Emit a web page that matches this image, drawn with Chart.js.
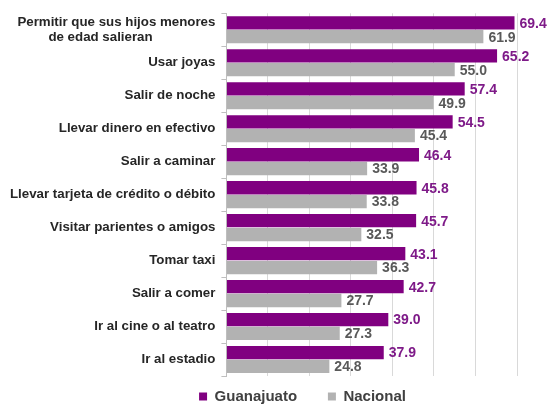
<!DOCTYPE html>
<html>
<head>
<meta charset="utf-8">
<script src="https://cdn.jsdelivr.net/npm/chart.js@4/dist/chart.umd.min.js"></script>
<style>
  html, body { margin: 0; padding: 0; background: #fff; }
  #wrap { width: 549px; height: 404px; position: relative; }
</style>
</head>
<body>
<div id="wrap"><canvas id="chart"></canvas></div>
<script>
// second line padded with spaces so it sits centred under the first
const categories = [
  ["Permitir que sus hijos menores", "de edad salieran" + " ".repeat(17)],
  "Usar joyas",
  "Salir de noche",
  "Llevar dinero en efectivo",
  "Salir a caminar",
  "Llevar tarjeta de crédito o débito",
  "Visitar parientes o amigos",
  "Tomar taxi",
  "Salir a comer",
  "Ir al cine o al teatro",
  "Ir al estadio",
];
const guanajuato = [69.4, 65.2, 57.4, 54.5, 46.4, 45.8, 45.7, 43.1, 42.7, 39.0, 37.9];
const nacional = [61.9, 55.0, 49.9, 45.4, 33.9, 33.8, 32.5, 36.3, 27.7, 27.3, 24.8];

const purple = "#800080";
const grey = "#b2b2b2";
const labelColors = ["#7e1a88", "#595959"];
const fontFamily = "'Liberation Sans', Arial, sans-serif";

// value labels at the end of each bar
const valueLabels = {
  id: "valueLabels",
  afterDatasetsDraw(chart) {
    const ctx = chart.ctx;
    ctx.save();
    ctx.font = "bold 14px " + fontFamily;
    ctx.textBaseline = "middle";
    ctx.textAlign = "left";
    chart.data.datasets.forEach((ds, i) => {
      const meta = chart.getDatasetMeta(i);
      ctx.fillStyle = labelColors[i];
      meta.data.forEach((bar, j) => {
        ctx.fillText(ds.data[j].toFixed(1), bar.x + 5, bar.y + 1);
      });
    });
    ctx.restore();
  },
};

// nudge the legend right and a bit lower, like the original
const legendShift = {
  id: "legendShift",
  afterLayout(chart) {
    chart.legend.left += 42;
    chart.legend.right += 42;
    chart.legend.top += 3;
    chart.legend.bottom += 3;
  },
};

new Chart(document.getElementById("chart"), {
  type: "bar",
  data: {
    labels: categories,
    datasets: [
      {
        label: "Guanajuato",
        data: guanajuato,
        backgroundColor: purple,
        categoryPercentage: 0.84,
        barPercentage: 0.96,
      },
      {
        label: "Nacional",
        data: nacional,
        backgroundColor: grey,
        categoryPercentage: 0.84,
        barPercentage: 0.96,
      },
    ],
  },
  options: {
    indexAxis: "y",
    responsive: true,
    maintainAspectRatio: false,
    animation: false,
    layout: { padding: { top: 12, right: 32, left: 4, bottom: -7 } },
    plugins: {
      legend: {
        position: "bottom",
        labels: {
          boxWidth: 8,
          boxHeight: 8,
          padding: 10,
          color: "#404040",
          font: { size: 15, weight: "bold", family: fontFamily },
          generateLabels(chart) {
            const items = Chart.defaults.plugins.legend.labels.generateLabels(chart);
            items[0].text += "     ";
            return items;
          },
        },
      },
      tooltip: { enabled: false },
    },
    scales: {
      x: {
        min: 0,
        max: 70,
        ticks: { display: false, stepSize: 10 },
        grid: { color: "#d9d9d9", drawTicks: false },
        border: { display: false },
      },
      y: {
        grid: { drawOnChartArea: false, tickLength: 5, color: "#bfbfbf" },
        border: { color: "#bfbfbf" },
        ticks: {
          padding: 6,
          color: "#262626",
          font: { size: 13.3, weight: "bold", family: fontFamily, lineHeight: 1.1 },
        },
      },
    },
  },
  plugins: [valueLabels, legendShift],
});
</script>
</body>
</html>
